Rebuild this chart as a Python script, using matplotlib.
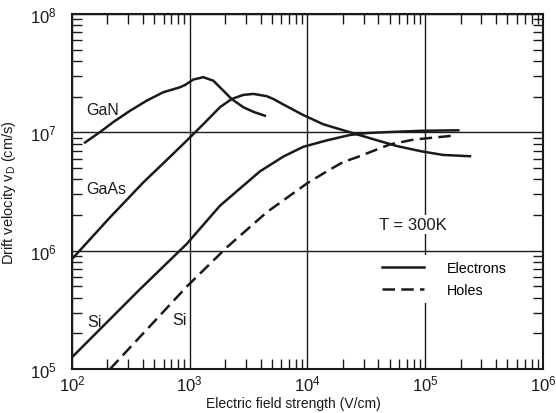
import matplotlib.pyplot as plt
from matplotlib.lines import Line2D
from matplotlib.ticker import LogLocator, NullFormatter

plt.rcParams['font.family'] = ['Liberation Sans', 'DejaVu Sans']

# curves (E in V/cm, v in cm/s)
gan_e = [129, 179, 224, 311, 431, 596, 826, 912, 1072, 1303, 1585, 1928, 2270, 2850, 3470, 4350]
gan_v = [8.2e6, 1.03e7, 1.22e7, 1.52e7, 1.85e7, 2.18e7, 2.40e7, 2.51e7, 2.79e7, 2.92e7,
         2.73e7, 2.25e7, 1.91e7, 1.63e7, 1.49e7, 1.38e7]

gaas_e = [100, 210, 403, 679, 942, 1303, 1807, 2270, 2850, 3470, 4500, 5200, 6220, 9200,
          13600, 23000, 36200, 57300, 93300, 142000, 240000]
gaas_v = [8.5e5, 1.91e6, 3.77e6, 6.2e6, 8.5e6, 1.17e7, 1.63e7, 1.91e7, 2.07e7, 2.11e7,
          2.02e7, 1.9e7, 1.72e7, 1.4e7, 1.17e7, 1.0e7, 8.75e6, 7.66e6, 6.9e6, 6.44e6, 6.28e6]

si_e = [100, 378, 942, 1807, 3950, 6240, 9200, 14600, 23000, 31800, 50200, 93300, 191000]
si_v = [1.26e5, 4.73e5, 1.14e6, 2.40e6, 4.68e6, 6.24e6, 7.54e6, 8.55e6, 9.5e6, 9.85e6,
        1.006e7, 1.03e7, 1.04e7]

si_h_e = [210, 948, 2070, 4530, 9900, 14600, 20000, 26200, 50200, 79300, 173000]
si_h_v = [1.0e5, 5.0e5, 1.07e6, 2.12e6, 3.7e6, 4.68e6, 5.6e6, 6.15e6, 7.9e6, 8.67e6, 9.37e6]

ink = '#1a1a1a'
fig = plt.figure(figsize=(5.56, 4.14), dpi=100)
ax = fig.add_axes([0.1295, 0.106, 0.847, 0.858])

lw = 1.8
ax.plot(gan_e, gan_v, color=ink, lw=lw)
ax.plot(gaas_e, gaas_v, color=ink, lw=lw)
ax.plot(si_e, si_v, color=ink, lw=lw)
ax.plot(si_h_e, si_h_v, color=ink, lw=lw, dashes=(5, 2.5))

ax.set_xscale('log')
ax.set_yscale('log')
ax.set_xlim(1e2, 1e6)
ax.set_ylim(1e5, 1e8)

ax.grid(True, which='major', color=ink, lw=1.0)
ax.xaxis.set_minor_locator(LogLocator(base=10, subs=range(2, 10)))
ax.yaxis.set_minor_locator(LogLocator(base=10, subs=range(2, 10)))
ax.xaxis.set_minor_formatter(NullFormatter())
ax.yaxis.set_minor_formatter(NullFormatter())
ax.tick_params(which='major', length=0, labelsize=12, colors=ink)
ax.tick_params(axis='x', which='major', pad=3)
ax.tick_params(axis='y', which='major', pad=11)
ax.tick_params(which='minor', direction='in', length=7, width=1,
               top=True, right=True, color=ink)
for s in ax.spines.values():
    s.set_linewidth(1.5)
    s.set_color(ink)

ax.set_xlabel('Electric field strength (V/cm)', fontsize=10, color=ink)
ax.xaxis.set_label_coords(0.47, -0.077)
ax.set_ylabel('Drift velocity v$_\\mathregular{D}$ (cm/s)', fontsize=10.5, color=ink)
ax.yaxis.set_label_coords(-0.115, 0.5)

lab = dict(fontsize=11.5, color=ink, ha='left', va='center')
ax.text(131, 1.57e7, 'GaN', **lab)
ax.text(131, 3.38e6, 'GaAs', **lab)
ax.text(134, 2.54e5, 'Si', **lab)
ax.text(707, 2.64e5, 'Si', **lab)

ax.text(7.87e4, 1.68e6, 'T = 300K', fontsize=12, color=ink, ha='center', va='center',
        bbox=dict(facecolor='white', edgecolor='none', pad=1.5))

handles = [Line2D([], [], color=ink, lw=lw),
           Line2D([], [], color=ink, lw=lw, dashes=(5, 2.5))]
leg = ax.legend(handles, ['Electrons', 'Holes'], loc='upper left',
                bbox_to_anchor=(0.63, 0.34), fontsize=10.3, frameon=True,
                handlelength=3.0, handletextpad=1.6, labelspacing=0.55,
                borderpad=0.4, fancybox=False)
leg.get_frame().set_facecolor('white')
leg.get_frame().set_edgecolor('none')
leg.get_frame().set_alpha(1)

fig.savefig('out.png', dpi=100)
